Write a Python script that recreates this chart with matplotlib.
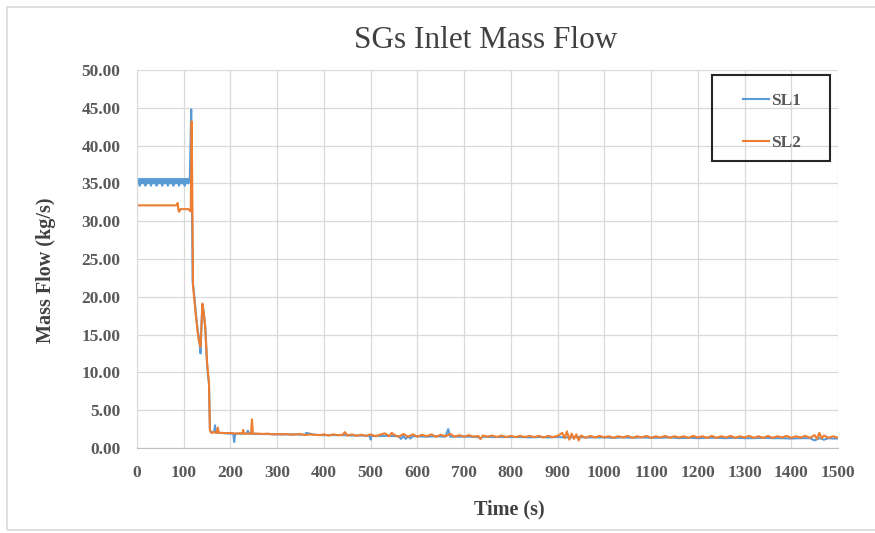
import matplotlib.pyplot as plt
from matplotlib.patches import Rectangle
import matplotlib.ticker as ticker

# SL1 (blue) - time (s) and inlet mass flow (kg/s)
sl1Time = [0, 2, 4, 6, 8, 10, 12, 14, 16, 18, 20, 22, 24, 26, 28, 30, 32, 34, 36, 38,
           40, 42, 44, 46, 48, 50, 52, 54, 56, 58, 60, 62, 64, 66, 68, 70, 72, 74, 76,
           78, 80, 82, 84, 86, 88, 90, 92, 94, 96, 98, 100, 102, 104, 106, 108, 110,
           112, 113, 116, 119, 122, 126, 130, 133, 136, 138, 140, 143, 146, 148, 150,
           152, 154, 156, 158, 160, 165, 167, 169, 180, 190, 200, 206, 208, 210, 220,
           235, 237, 240, 260, 280, 300, 320, 340, 360, 362, 380, 400, 420, 440, 460,
           480, 498, 500, 502, 520, 540, 560, 565, 570, 575, 580, 585, 590, 600, 620,
           640, 660, 666, 670, 690, 710, 730, 735, 740, 760, 780, 800, 820, 840, 860,
           880, 900, 920, 940, 960, 980, 1000, 1020, 1040, 1060, 1080, 1100, 1120, 1140,
           1160, 1180, 1200, 1220, 1240, 1260, 1280, 1300, 1320, 1340, 1360, 1380, 1400,
           1420, 1440, 1450, 1460, 1470, 1480, 1490, 1500]
sl1Flow = [35.6, 35.0, 35.6, 34.7, 35.6, 35.0, 35.6, 35.0, 35.6, 34.7,
           35.6, 35.0, 35.6, 35.0, 35.6, 34.7, 35.6, 35.0, 35.6, 35.0,
           35.6, 34.7, 35.6, 35.0, 35.6, 35.0, 35.6, 34.7, 35.6, 35.0,
           35.6, 35.0, 35.6, 34.7, 35.6, 35.0, 35.6, 35.0, 35.6, 34.7,
           35.6, 35.0, 35.6, 35.0, 35.6, 34.7, 35.6, 35.0, 35.6, 35.0,
           35.6, 34.7, 35.6, 35.0, 35.6, 35.0, 35.6, 35.5,
           44.8, 22.0, 20.5, 17.8, 15.5, 14.5, 12.5, 16.5, 19.0, 17.8, 16.0, 13.5, 11.0,
           9.5, 8.6, 2.5, 2.1, 2.1, 2.1, 3.0, 2.0, 2.0, 1.95, 1.9, 1.9, 0.8, 1.9, 1.9,
           1.9, 2.3, 1.9, 1.85, 1.85, 1.8, 1.8, 1.8, 1.75, 2.0, 1.75, 1.7, 1.7, 1.7, 1.65,
           1.65, 1.6, 1.1, 1.6, 1.6, 1.6, 1.55, 1.2, 1.6, 1.2, 1.55, 1.25, 1.55, 1.55, 1.5,
           1.55, 1.5, 2.5, 1.5, 1.5, 1.5, 1.45, 1.25, 1.5, 1.45, 1.45, 1.45, 1.45, 1.4,
           1.45, 1.4, 1.45, 1.4, 1.45, 1.4, 1.4, 1.4, 1.35, 1.4, 1.35, 1.4, 1.35, 1.35, 1.4,
           1.3, 1.35, 1.3, 1.35, 1.35, 1.3, 1.35, 1.3, 1.3, 1.35, 1.3, 1.3, 1.25, 1.3, 1.3,
           1.0, 1.3, 1.1, 1.3, 1.25, 1.25]

# SL2 (orange)
sl2Time = [0, 85, 87, 89, 91, 93, 110, 113, 115, 117, 120, 122, 126, 130, 132, 134,
           136, 138, 140, 143, 146, 148, 150, 152, 154, 156, 158, 160, 165, 170, 173,
           175, 180, 190, 200, 210, 220, 226, 227, 229, 240, 244, 246, 248, 260, 270,
           280, 290, 300, 310, 320, 330, 340, 350, 360, 370, 380, 390, 400, 410, 420,
           430, 440, 445, 450, 460, 470, 480, 490, 500, 510, 520, 530, 540, 545, 550,
           560, 570, 580, 590, 600, 610, 620, 630, 640, 650, 660, 670, 680, 690, 700,
           710, 720, 730, 735, 740, 750, 760, 770, 780, 790, 800, 810, 820, 830, 840,
           850, 860, 870, 880, 890, 900, 910, 915, 920, 925, 930, 935, 940, 945, 950,
           960, 970, 980, 990, 1000, 1010, 1020, 1030, 1040, 1050, 1060, 1070, 1080,
           1090, 1100, 1110, 1120, 1130, 1140, 1150, 1160, 1170, 1180, 1190, 1200, 1210,
           1220, 1230, 1240, 1250, 1260, 1270, 1280, 1290, 1300, 1310, 1320, 1330, 1340,
           1350, 1360, 1370, 1380, 1390, 1400, 1410, 1420, 1430, 1440, 1450, 1455, 1460,
           1465, 1470, 1480, 1490, 1500]
sl2Flow = [32.1, 32.1, 32.4, 31.3, 31.3, 31.6, 31.6, 31.4, 31.3, 43.2, 21.5, 20.0,
           17.5, 15.2, 14.3, 13.8, 13.4, 16.0, 19.1, 17.8, 16.0, 13.5, 11.2, 10.0, 8.6,
           2.4, 2.1, 2.0, 2.1, 2.0, 2.7, 2.0, 2.0, 1.95, 2.0, 1.9, 1.95, 1.95, 2.4, 1.9,
           1.9, 1.9, 3.8, 1.9, 1.9, 1.85, 1.9, 1.8, 1.85, 1.8, 1.85, 1.75, 1.8, 1.85,
           1.7, 1.8, 1.75, 1.7, 1.8, 1.65, 1.8, 1.7, 1.75, 2.1, 1.65, 1.8, 1.6, 1.75,
           1.6, 1.8, 1.55, 1.75, 1.95, 1.55, 2.0, 1.75, 1.5, 1.85, 1.5, 1.8, 1.5, 1.75,
           1.55, 1.8, 1.5, 1.75, 1.55, 1.85, 1.5, 1.7, 1.5, 1.7, 1.5, 1.6, 1.2, 1.65, 1.5,
           1.65, 1.45, 1.65, 1.45, 1.6, 1.45, 1.6, 1.45, 1.6, 1.45, 1.6, 1.4, 1.6, 1.45,
           1.6, 2.0, 1.3, 2.2, 1.1, 1.9, 1.2, 1.8, 1.0, 1.65, 1.35, 1.6, 1.4, 1.6, 1.4,
           1.55, 1.35, 1.55, 1.4, 1.6, 1.35, 1.55, 1.4, 1.6, 1.35,
           1.55, 1.4, 1.6, 1.35, 1.55, 1.4, 1.55, 1.35, 1.6, 1.4,
           1.55, 1.35, 1.6, 1.35, 1.55, 1.4, 1.6, 1.35, 1.55, 1.4,
           1.6, 1.35, 1.55, 1.35, 1.6, 1.35, 1.55, 1.4, 1.6, 1.35,
           1.55, 1.4, 1.6, 1.35, 1.7, 1.2, 2.0, 1.3, 1.65, 1.35, 1.55, 1.35]

xTicks = [0, 100, 200, 300, 400, 500, 600, 700, 800, 900, 1000, 1100, 1200, 1300, 1400, 1500]
yTicks = [0, 5, 10, 15, 20, 25, 30, 35, 40, 45, 50]

serif = ["Liberation Serif", "DejaVu Serif"]
textColor = "#595959"
gridColor = "#d9d9d9"
W, H = 875, 533

fig = plt.figure(figsize=(8.75, 5.33), dpi=100)
ax = fig.add_axes([137 / W, 1 - 448 / H, 701 / W, 378 / H])

# Excel-like light border around the whole chart (right edge is cut off)
fig.patches.append(Rectangle((7 / W, 3 / H), 1.1, 523 / H, transform=fig.transFigure,
                             fill=False, edgecolor=gridColor, linewidth=1.2))

ax.plot(sl1Time, sl1Flow, color="#5B9BD5", linewidth=1.5, label="SL1")
ax.plot(sl2Time, sl2Flow, color="#ED7D31", linewidth=1.5, label="SL2")

ax.set_xlim(0, 1500)
ax.set_ylim(0, 50)
ax.set_xticks(xTicks)
ax.set_yticks(yTicks)
ax.yaxis.set_major_formatter(ticker.FormatStrFormatter("%.2f"))
ax.grid(True, color=gridColor, linewidth=0.9)
ax.set_axisbelow(True)
for side in ["top", "right"]:
    ax.spines[side].set_visible(False)
ax.spines["left"].set_color(gridColor)
ax.spines["bottom"].set_color("#bfbfbf")
ax.tick_params(length=0, pad=12, labelcolor=textColor)
for label in ax.get_xticklabels() + ax.get_yticklabels():
    label.set_family(serif)
    label.set_fontweight("bold")
    label.set_fontsize(12.5)

fig.text(509 / W, 1 - 509 / H, "Time (s)", family=serif, fontweight="bold",
         fontsize=14.5, color="#404040", ha="center", va="center")
fig.text(46 / W, 1 - 270 / H, "Mass Flow (kg/s)", family=serif, fontweight="bold",
         fontsize=14.5, color="#404040", ha="center", va="center", rotation=90)
fig.text(486 / W, 1 - 40.5 / H, "SGs Inlet Mass Flow", family=serif, fontsize=22.5,
         color="#404040", ha="center", va="center")

# Legend entries without frame, box drawn separately
fig.patches.append(Rectangle((712 / W, 1 - 161 / H), 118 / W, 86 / H,
                             transform=fig.transFigure, fill=False,
                             edgecolor="#262626", linewidth=1.5, zorder=5))
leg = ax.legend(loc="upper left", bbox_to_anchor=(743 / W, 1 - 93 / H),
                bbox_transform=fig.transFigure, prop={"family": serif, "weight": "bold",
                                                      "size": 12.5},
                frameon=False, handlelength=1.5, handletextpad=0.1,
                labelspacing=1.48, borderpad=0, borderaxespad=0)
for text in leg.get_texts():
    text.set_color(textColor)

fig.savefig("out.png", dpi=100)
